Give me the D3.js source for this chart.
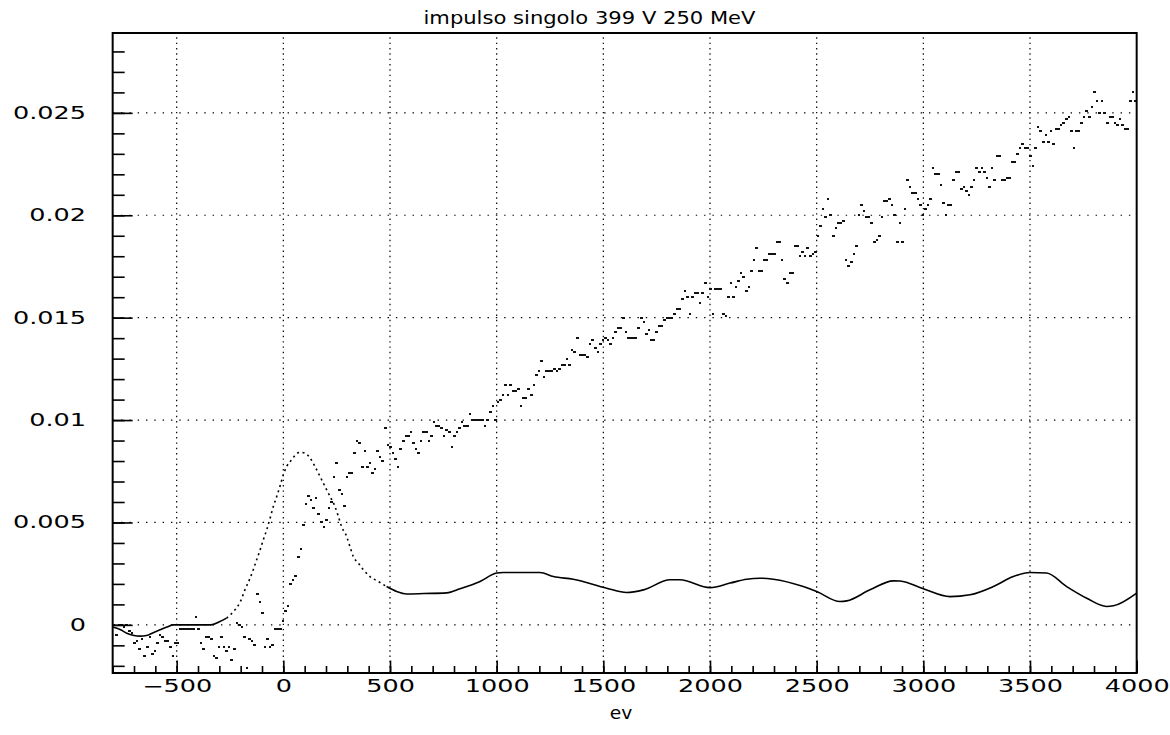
<!DOCTYPE html>
<html>
<head>
<meta charset="utf-8">
<script src="https://cdn.jsdelivr.net/npm/d3@7"></script>
<style>
  html, body { margin: 0; padding: 0; background: #fff; }
  svg { display: block; }
  text { font-family: "DejaVu Sans", sans-serif; fill: #000; }
</style>
</head>
<body>
<svg id="chart" width="1170" height="735"></svg>
<script>
// ---- data ---------------------------------------------------------------
const titleText = "impulso singolo 399 V 250 MeV";
const xTitle = "ev";

// Histogram of the single pulse: bins of 12 eV starting at -800, values in units of 1e-4
const binStart = -800;
const binWidth = 12;
const scatterUnit = 1e-4;
const scatterValues = [
  0, -5, 0, 0, -1, 0, -3, -4, -9, -8,
  -12, -7, -15, -11, -6, -14, -13, -9, -5, -6,
  -8, -8, -11, -15, -9, -9, -2, -2, -2, -2,
  -2, -2, 4, -2, -9, -12, -6, -6, -7, -15,
  -16, -11, -6, -11, -13, -11, -17, -12, 1, 0,
  -1, -6, -21, -7, -8, -10, 15, 11, 6, -11,
  -7, -11, -10, -2, -2, -2, 2, 7, 9, 20,
  22, 24, 33, 37, 49, 59, 63, 61, 57, 62,
  54, 50, 48, 51, 57, 60, 72, 79, 66, 64,
  58, 72, 74, 74, 84, 90, 89, 77, 85, 77,
  79, 74, 76, 85, 82, 80, 96, 88, 87, 84,
  81, 77, 86, 90, 92, 92, 94, 89, 86, 84,
  90, 94, 94, 90, 92, 99, 97, 97, 96, 92,
  95, 94, 87, 92, 94, 96, 99, 97, 97, 103,
  100, 100, 100, 100, 100, 97, 100, 104, 107, 100,
  109, 110, 112, 117, 112, 117, 114, 114, 115, 107,
  111, 111, 115, 112, 117, 122, 124, 129, 121, 124,
  124, 124, 125, 124, 125, 127, 127, 130, 127, 134,
  133, 140, 132, 132, 132, 131, 137, 139, 135, 133,
  137, 139, 140, 139, 137, 140, 143, 145, 145, 150,
  143, 140, 140, 140, 140, 145, 150, 148, 142, 144,
  139, 139, 143, 146, 146, 149, 150, 150, 150, 152,
  154, 154, 159, 163, 160, 152, 160, 162, 162, 157,
  162, 167, 160, 164, 152, 164, 164, 164, 152, 151,
  160, 167, 160, 165, 168, 172, 170, 163, 165, 173,
  178, 184, 173, 173, 178, 178, 181, 181, 181, 187,
  187, 178, 169, 167, 172, 172, 185, 185, 180, 182,
  180, 184, 180, 181, 182, 190, 195, 203, 199, 208,
  200, 190, 194, 196, 196, 197, 178, 175, 177, 181,
  185, 200, 205, 202, 199, 199, 196, 187, 188, 190,
  199, 207, 207, 208, 205, 200, 187, 196, 187, 203,
  217, 214, 211, 211, 208, 205, 200, 203, 205, 208,
  223, 220, 220, 215, 206, 200, 205, 205, 217, 221,
  221, 213, 214, 212, 210, 214, 217, 223, 221, 223,
  221, 218, 214, 223, 217, 229, 229, 217, 217, 218,
  218, 226, 226, 230, 233, 235, 233, 233, 229, 224,
  233, 243, 241, 236, 239, 236, 241, 235, 242, 242,
  244, 245, 247, 248, 241, 233, 241, 241, 245, 248,
  251, 248, 253, 260, 256, 250, 256, 250, 245, 248,
  248, 245, 244, 247, 244, 242, 242, 256, 260, 256
];

// Smoothed response (eV, value in units of 1e-4)
const curveUnit = 1e-4;
const curveX = [
  -800, -760, -734, -700, -672, -641, -610, -578, -545, -516,
  -420, -340, -300, -266, -234, -203, -180, -156, -141, -125,
  -109, -94, -78, -62, -47, -31, -16, 0, 16, 39,
  62, 78, 102, 125, 148, 172, 195, 219, 242, 258,
  273, 297, 312, 328, 352, 375, 406, 445, 484, 531,
  578, 660, 766, 828, 922, 1000, 1031, 1203, 1266, 1359,
  1516, 1609, 1688, 1813, 1859, 2000, 2094, 2172, 2234, 2297,
  2437, 2500, 2609, 2641, 2750, 2859, 2891, 3000, 3125, 3219,
  3328, 3422, 3500, 3578, 3672, 3766, 3859, 3891, 4000
];
const curveY = [
  -1, -2.5, -4.1, -5.2, -5.5, -5.2, -3.8, -2.4, -1, 0,
  0, 0, 1.5, 3.3, 6.5, 11, 17.1, 22.8, 26.9, 31.8,
  36.6, 41.5, 46.4, 52.1, 57.8, 62.7, 67.6, 73.3, 77.4, 80.6,
  83.6, 84.2, 83.9, 81.5, 77.4, 72.5, 67.6, 62.7, 57.8, 52.9,
  48, 43.1, 38.3, 33.4, 30.1, 26.9, 23.6, 21.2, 18.7, 16.3,
  15.1, 15.3, 15.6, 17.6, 21.2, 25.3, 25.6, 25.6, 23.6, 22.3,
  17.9, 15.8, 17.1, 22, 22, 18.2, 20.4, 22.3, 22.8, 22.3,
  18.7, 16.3, 11.4, 11.7, 17.1, 21.5, 21.4, 17.6, 13.8, 14.7,
  18.7, 23.6, 25.6, 25.3, 18.7, 13, 9, 9.3, 15.5
];

// Axis ticks and labels
const xMajorTicks = [-500, 0, 500, 1000, 1500, 2000, 2500, 3000, 3500, 4000];
const xTickLabels = ["\u2212500", "0", "500", "1000", "1500", "2000", "2500", "3000", "3500", "4000"];
const yMajorTicks = [0, 0.005, 0.01, 0.015, 0.02, 0.025];
const yTickLabels = ["0", "0.005", "0.01", "0.015", "0.02", "0.025"];

// ---- layout -------------------------------------------------------------
const plot = { left: 112.67, right: 1136.67, top: 33, bottom: 673 };
const xDomain = [-800, 4000];
const yDomain = [-0.00235, 0.0289];
const labelStretch = 1.5;

const svg = d3.select("#chart");
const x = d3.scaleLinear().domain(xDomain).range([plot.left, plot.right]);
const y = d3.scaleLinear().domain(yDomain).range([plot.bottom, plot.top]);

// widen glyphs horizontally, keeping their anchor
function stretch(sel, factor) {
  sel.each(function () {
    const w = this.getComputedTextLength();
    this.setAttribute("textLength", w * factor);
    this.setAttribute("lengthAdjust", "spacingAndGlyphs");
  });
}

// ---- grid ---------------------------------------------------------------
const grid = svg.append("g").attr("stroke", "#000").attr("stroke-width", 1.2);
grid.selectAll("line.vg")
  .data(xMajorTicks.filter(v => v < xDomain[1]))
  .join("line")
  .attr("x1", d => x(d)).attr("x2", d => x(d))
  .attr("y1", plot.bottom).attr("y2", plot.top)
  .attr("stroke-dasharray", "1.4,3.93");
grid.selectAll("line.hg")
  .data(yMajorTicks)
  .join("line")
  .attr("x1", plot.left).attr("x2", plot.right)
  .attr("y1", d => y(d)).attr("y2", d => y(d))
  .attr("stroke-dasharray", "1.4,6.93");

// ---- histogram points -----------------------------------------------------
const binPx = x(binStart + binWidth) - x(binStart);
svg.append("g")
  .attr("fill", "#111")
  .attr("shape-rendering", "crispEdges")
  .selectAll("rect")
  .data(scatterValues)
  .join("rect")
  .attr("x", (d, i) => x(binStart + i * binWidth))
  .attr("width", binPx)
  .attr("y", d => Math.round(y(d * scatterUnit)) - 1)
  .attr("height", 2);

// ---- smoothed curve -------------------------------------------------------
const curvePts = curveX.map((v, i) => [v, curveY[i]]);
const line = d3.line()
  .x(d => x(d[0]))
  .y(d => y(d[1] * curveUnit))
  .curve(d3.curveMonotoneX);
const flankFrom = -266, flankTo = 484;
const pieces = [
  { pts: curvePts.filter(d => d[0] <= flankFrom), dash: null },
  { pts: curvePts.filter(d => d[0] >= flankFrom && d[0] <= flankTo), dash: "2,3.5" },
  { pts: curvePts.filter(d => d[0] >= flankTo), dash: null }
];
svg.append("g").selectAll("path")
  .data(pieces)
  .join("path")
  .attr("d", d => line(d.pts))
  .attr("fill", "none")
  .attr("stroke", "#000")
  .attr("stroke-width", 1.6)
  .attr("stroke-dasharray", d => d.dash);

// ---- axes ---------------------------------------------------------------
const xMinor = d3.range(-8, 41).map(v => v * 100);
const yMinor = d3.range(-2, 29).map(v => v / 1000);

const xMinorAxis = d3.axisBottom(x).tickValues(xMinor).tickSize(-7).tickFormat("");
const xMajorAxis = d3.axisBottom(x).tickValues(xMajorTicks).tickSize(-12.5).tickPadding(7)
  .tickFormat((d, i) => xTickLabels[i]);
const yMinorAxis = d3.axisLeft(y).tickValues(yMinor).tickSize(-12).tickFormat("");
const yMajorAxis = d3.axisLeft(y).tickValues(yMajorTicks).tickSize(-20).tickPadding(26.7)
  .tickFormat((d, i) => yTickLabels[i]);

function styleAxis(g) {
  g.select(".domain").remove();
  g.selectAll(".tick line").attr("stroke", "#000").attr("stroke-width", 1.6);
  g.selectAll("text").attr("font-family", "DejaVu Sans, sans-serif")
    .attr("font-size", 17).attr("fill", "#000");
}

svg.append("g").attr("transform", `translate(0,${plot.bottom})`).call(xMinorAxis).call(styleAxis);
const gx = svg.append("g").attr("transform", `translate(0,${plot.bottom})`).call(xMajorAxis).call(styleAxis);
svg.append("g").attr("transform", `translate(${plot.left},0)`).call(yMinorAxis).call(styleAxis);
const gy = svg.append("g").attr("transform", `translate(${plot.left},0)`).call(yMajorAxis).call(styleAxis);
stretch(gx.selectAll("text"), labelStretch);
stretch(gy.selectAll("text"), labelStretch);

// ---- frame ----------------------------------------------------------------
svg.append("rect")
  .attr("x", plot.left).attr("y", plot.top)
  .attr("width", plot.right - plot.left).attr("height", plot.bottom - plot.top)
  .attr("fill", "none").attr("stroke", "#000").attr("stroke-width", 2);

// ---- titles ---------------------------------------------------------------
svg.append("text")
  .attr("x", 589.5).attr("y", 24)
  .attr("text-anchor", "middle")
  .attr("font-size", 17)
  .attr("textLength", 332)
  .attr("lengthAdjust", "spacingAndGlyphs")
  .text(titleText);

const xt = svg.append("text")
  .attr("x", 621).attr("y", 719)
  .attr("text-anchor", "middle")
  .attr("font-size", 17)
  .text(xTitle);
stretch(xt, 1.1);
</script>
</body>
</html>
